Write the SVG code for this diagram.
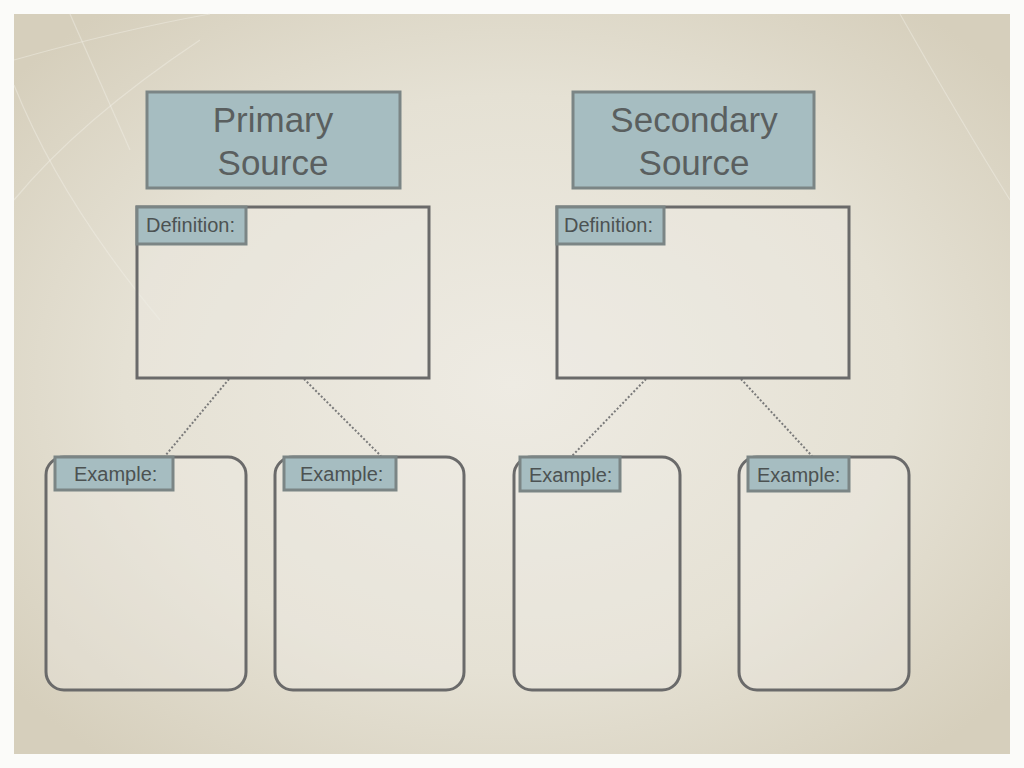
<svg xmlns="http://www.w3.org/2000/svg" width="1024" height="768" viewBox="0 0 1024 768">
<defs>
<radialGradient id="paper" cx="0.5" cy="0.5" r="0.65">
<stop offset="0" stop-color="#EEEBE3"/>
<stop offset="0.6" stop-color="#E5E1D4"/>
<stop offset="1" stop-color="#D6CFBC"/>
</radialGradient>
<style>
.title{fill:#A6BDC1;stroke:#7B8585;stroke-width:3}
.tag{fill:#A6BDC1;stroke:#7B8585;stroke-width:3}
.box{fill:#EFECE4;fill-opacity:0.35;stroke:#6A6A6A;stroke-width:3}
.big{font-family:"Liberation Sans",Arial,sans-serif;font-size:35px;fill:#5A5F5F;text-anchor:middle}
.small{font-family:"Liberation Sans",Arial,sans-serif;font-size:20px;fill:#4C5252}
.conn{stroke:#7A7A7A;stroke-width:2;stroke-dasharray:2 2;fill:none}
.streak{stroke:#F2EFE6;stroke-width:1.2;fill:none;opacity:0.45}
</style>
</defs>
<rect width="1024" height="768" fill="#FBFBF9"/>
<rect x="14" y="14" width="996" height="740" fill="url(#paper)"/>
<g id="streaks">
<path class="streak" d="M70 14 L130 150"/>
<path class="streak" d="M14 60 Q120 30 210 14"/>
<path class="streak" d="M14 85 Q60 200 160 320"/>
<path class="streak" d="M14 200 Q80 120 200 40"/>
<path class="streak" d="M900 14 Q960 120 1010 200"/>
</g>
<g id="connectors">
<line class="conn" x1="229" y1="379" x2="165" y2="456"/>
<line class="conn" x1="304" y1="379" x2="381" y2="456"/>
<line class="conn" x1="646" y1="379" x2="572" y2="456"/>
<line class="conn" x1="741" y1="379" x2="812" y2="456"/>
</g>
<g id="primary-source">
<rect class="title" x="147" y="92" width="253" height="96"/>
<text class="big" x="273" y="132">Primary</text>
<text class="big" x="273" y="175">Source</text>
</g>
<g id="secondary-source">
<rect class="title" x="573" y="92" width="241" height="96"/>
<text class="big" x="694" y="132">Secondary</text>
<text class="big" x="694" y="175">Source</text>
</g>
<g id="primary-definition">
<rect class="box" x="137" y="207" width="292" height="171"/>
<rect class="tag" x="137" y="207" width="109" height="37"/>
<text class="small" x="146" y="232">Definition:</text>
</g>
<g id="secondary-definition">
<rect class="box" x="557" y="207" width="292" height="171"/>
<rect class="tag" x="557" y="207" width="107" height="37"/>
<text class="small" x="564" y="232">Definition:</text>
</g>
<g id="example-1">
<rect class="box" x="46" y="457" width="200" height="233" rx="18"/>
<rect class="tag" x="55" y="457" width="118" height="33"/>
<text class="small" x="74" y="481">Example:</text>
</g>
<g id="example-2">
<rect class="box" x="275" y="457" width="189" height="233" rx="18"/>
<rect class="tag" x="284" y="457" width="112" height="33"/>
<text class="small" x="300" y="481">Example:</text>
</g>
<g id="example-3">
<rect class="box" x="514" y="457" width="166" height="233" rx="18"/>
<rect class="tag" x="520" y="457" width="100" height="34"/>
<text class="small" x="529" y="482">Example:</text>
</g>
<g id="example-4">
<rect class="box" x="739" y="457" width="170" height="233" rx="18"/>
<rect class="tag" x="748" y="457" width="101" height="34"/>
<text class="small" x="757" y="482">Example:</text>
</g>
</svg>
